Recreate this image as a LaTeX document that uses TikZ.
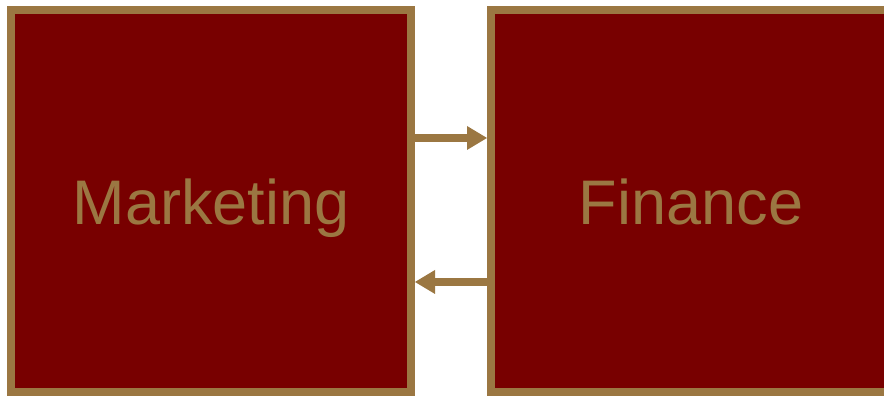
\documentclass[tikz,border=0pt]{standalone}
\usepackage{fontspec}
\setmainfont{Liberation Sans}
\usetikzlibrary{arrows.meta}
\definecolor{boxred}{RGB}{120,0,0}
\definecolor{gold}{RGB}{155,119,66}
\tikzset{
  dept/.style={draw=gold, fill=boxred, line width=8pt, minimum width=400pt, minimum height=382pt,
    inner sep=0pt, text=gold, text height=48pt, text depth=0pt, font=\fontsize{63}{70}\selectfont},
  flow/.style={draw=gold, line width=8pt, -{Triangle[length=20pt,width=24pt,line width=0pt]}, fill=gold}
}
\begin{document}
\begin{tikzpicture}[x=1pt,y=1pt]
\useasboundingbox (0,0) rectangle (884,396);
\clip (0,0) rectangle (884,396);
\node[dept] (mkt) at (211,195) {Marketing};
\node[dept] (fin) at (691,195) {Finance};
\draw[flow] ([yshift=63pt]mkt.east) -- ([yshift=63pt]fin.west);
\draw[flow] ([yshift=-81pt]fin.west) -- ([yshift=-81pt]mkt.east);
\end{tikzpicture}
\end{document}
